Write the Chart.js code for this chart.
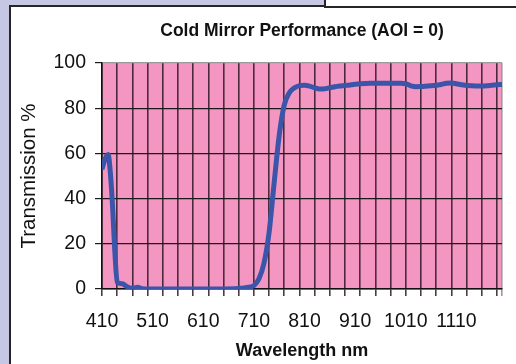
<!DOCTYPE html>
<html>
<head>
<meta charset="utf-8">
<script src="https://cdn.jsdelivr.net/npm/chart.js@4.4.1/dist/chart.umd.min.js"></script>
<style>
    body { margin: 0; background: #c5c7e5; width: 516px; height: 364px; overflow: hidden; position: relative; font-family: "Liberation Sans", Arial, sans-serif; }
    #panel { position: absolute; left: 9px; top: 5px; width: 600px; height: 500px; background: #fff; border: 2px solid #262626; }
    #corner { position: absolute; left: 324px; top: -4px; width: 300px; height: 8px; background: #fff; border: 2px solid #262626; }
    #wrap { position: absolute; left: 0; top: 0; width: 516px; height: 364px; }
</style>
</head>
<body>
<div id="panel"></div>
<div id="corner"></div>
<div id="wrap"><canvas id="chart" width="516" height="364"></canvas></div>
<script>
const wavelengths = [410, 416, 422, 427, 431, 435, 440, 450, 460, 470, 480, 490, 500, 520, 560, 600, 640, 680, 700,
    710, 720, 730, 740, 750, 760, 770, 780, 790, 800, 810, 820, 830, 840, 850, 860, 870, 880, 900, 920, 940, 960, 980,
    1000, 1010, 1020, 1030, 1040, 1060, 1080, 1090, 1100, 1110, 1120, 1140, 1160, 1170, 1180, 1190, 1200];
const transmission = [53, 57.5, 59.5, 50, 36, 18, 3, 2.3, 1, 0.3, 0.8, 0.1, 0, 0, 0, 0, 0, 0.2, 0.8,
    1.5, 4.5, 11.5, 25, 47, 68, 81.5, 86.8, 89, 90, 90.2, 89.8, 89, 88.5, 88.6, 89.1, 89.5, 89.8, 90.3, 90.8, 91, 91, 91,
    91, 90.8, 89.9, 89.5, 89.6, 89.9, 90.5, 91, 91.1, 90.8, 90.4, 89.9, 89.8, 89.9, 90.2, 90.4, 90.5];
const xMin = 410, xMax = 1200, xStep = 10;
const gridEvery = 30;   // vertical lines every 30 nm
const labelEvery = 100; // labels every 100 nm
const yTicks = [0, 20, 40, 60, 80, 100];

// pink plot background
const plotBackground = {
    id: 'plotBackground',
    beforeDraw(chart) {
        const { ctx, chartArea: a } = chart;
        ctx.save();
        ctx.fillStyle = '#f396c1';
        ctx.fillRect(a.left, a.top, a.right - a.left, a.bottom - a.top);
        ctx.restore();
    }
};

const ctx = document.getElementById('chart').getContext('2d');
new Chart(ctx, {
    type: 'line',
    data: {
        datasets: [{
            data: wavelengths.map((w, i) => ({ x: w, y: transmission[i] })),
            borderColor: '#3b55a9',
            borderWidth: 5,
            pointRadius: 0,
            cubicInterpolationMode: 'monotone',
            fill: false
        }]
    },
    options: {
        responsive: false,
        animation: false,
        devicePixelRatio: 1,
        layout: { padding: { left: 13, right: 11, top: 0, bottom: 0 } },
        plugins: {
            legend: { display: false },
            tooltip: { enabled: false },
            title: {
                display: true,
                fullSize: false,
                text: 'Cold Mirror Performance (AOI = 0)',
                color: '#111',
                font: { family: 'Liberation Sans', size: 17.5, weight: 'bold', lineHeight: 1.2 },
                padding: { top: 21, bottom: 21 }
            }
        },
        scales: {
            x: {
                type: 'linear',
                min: xMin,
                max: xMax,
                afterFit(s) { s.height = 75; },
                border: { display: true, color: '#111', width: 1.5 },
                grid: {
                    drawOnChartArea: true,
                    tickLength: 7,
                    lineWidth: 1.6,
                    color(c) {
                        const v = c.tick ? c.tick.value : null;
                        if (v === xMax) return '#9a9a9a';
                        return (v - xMin) % gridEvery === 0 ? 'rgba(45,25,35,0.85)' : 'rgba(0,0,0,0)';
                    }
                },
                ticks: {
                    stepSize: xStep,
                    autoSkip: false,
                    maxRotation: 0,
                    padding: 14,
                    color: '#111',
                    font: { family: 'Liberation Sans', size: 19.5 },
                    callback: v => ((v - xMin) % labelEvery === 0 ? String(v) : '')
                },
                title: {
                    display: true,
                    text: 'Wavelength nm',
                    color: '#111',
                    font: { family: 'Liberation Sans', size: 18, weight: 'bold', lineHeight: 1.2 },
                    padding: { top: 4, bottom: 2 }
                }
            },
            y: {
                min: 0,
                max: 100,
                afterFit(s) { s.width = 89; },
                afterBuildTicks(s) { s.ticks = yTicks.map(v => ({ value: v })); },
                border: { display: true, color: '#111', width: 1.5 },
                grid: {
                    tickLength: 7,
                    lineWidth: 1.2,
                    color: c => (c.tick && c.tick.value === 100 ? '#9a9a9a' : '#1a1a1a'),
                    tickColor: '#1a1a1a'
                },
                ticks: {
                    padding: 9,
                    color: '#111',
                    font: { family: 'Liberation Sans', size: 19.5 }
                },
                title: {
                    display: true,
                    text: 'Transmission %',
                    color: '#111',
                    font: { family: 'Liberation Sans', size: 20.5, lineHeight: 1.2 },
                    padding: { top: 4, bottom: 4 }
                }
            }
        }
    },
    plugins: [plotBackground]
});
</script>
</body>
</html>
